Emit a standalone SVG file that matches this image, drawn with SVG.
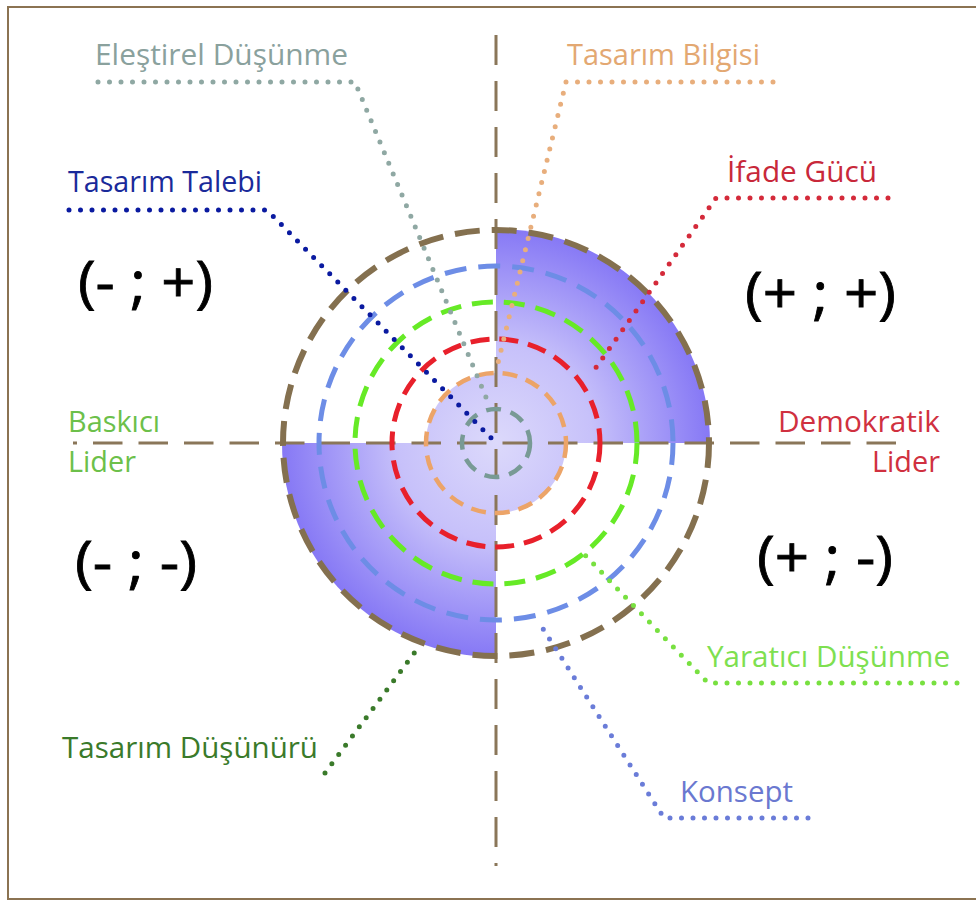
<svg xmlns="http://www.w3.org/2000/svg" width="976" height="902" viewBox="0 0 976 902">
<defs>
<radialGradient id="shade" gradientUnits="userSpaceOnUse" cx="496" cy="443" r="216">
<stop offset="0" stop-color="#dcd9fb"/>
<stop offset="0.45" stop-color="#c7c1fa"/>
<stop offset="1" stop-color="#8577f5"/>
</radialGradient>
<style>
.lbl{font-family:"Open Sans","Liberation Sans",sans-serif;font-size:29px}
.sign{font-family:"Open Sans","Liberation Sans",sans-serif;font-size:56px;fill:#000;stroke:#000;stroke-width:0.8}
.ring{fill:none}
.axis{fill:none;stroke:#8a7659;stroke-width:3}
.lead{fill:none;stroke-width:5;stroke-linecap:round;stroke-linejoin:round;stroke-dasharray:0 11.5}
</style>
</defs>
<rect x="0" y="0" width="976" height="902" fill="#ffffff"/>
<rect x="8" y="7" width="980" height="892" fill="none" stroke="#8b7352" stroke-width="2"/>

<g id="shading">
<path d="M496,443 L496,229 A214,214 0 0 1 710,443 Z" fill="url(#shade)"/>
<path d="M496,443 L282,443 A214,214 0 0 0 496,657 Z" fill="url(#shade)"/>
<circle cx="496" cy="443" r="70" fill="url(#shade)"/>
</g>

<g id="axes">
<line class="axis" x1="73" y1="443" x2="897" y2="443" stroke-dasharray="29.5 16" stroke-dashoffset="25.5"/>
<line class="axis" x1="496" y1="35" x2="496" y2="866" stroke-dasharray="30 16"/>
</g>

<g id="rings">
<circle id="ring-brown" class="ring" cx="496" cy="443" r="213" stroke="#84704f" stroke-width="6" stroke-dasharray="25 12"/>
<circle id="ring-blue" class="ring" cx="496" cy="443" r="177" stroke="#6d8de6" stroke-width="5" stroke-dasharray="22 12"/>
<circle id="ring-green" class="ring" cx="496" cy="443" r="141" stroke="#66ea26" stroke-width="5" stroke-dasharray="21 11"/>
<circle id="ring-red" class="ring" cx="496" cy="443" r="104" stroke="#e8202b" stroke-width="5" stroke-dasharray="19 10"/>
<circle id="ring-orange" class="ring" cx="496" cy="443" r="70" stroke="#eca468" stroke-width="4.5" stroke-dasharray="15 9"/>
<circle id="ring-gray" class="ring" cx="496" cy="443" r="34" stroke="#789a95" stroke-width="4.5" stroke-dasharray="15 10"/>
</g>

<g id="connectors">
<path class="lead" stroke="#8fa8a3" d="M98,82 L355,82 L488,402"/>
<path class="lead" stroke="#e8ae7c" d="M773,82 L566,82 L498,363"/>
<path class="lead" stroke="#d42a3a" d="M888,198 L716,198 L590,376"/>
<path class="lead" stroke="#0a1aa0" d="M69,210 L267,210 L496,443"/>
<path class="lead" stroke="#78e040" d="M957,683 L708,683 L583,553"/>
<path class="lead" stroke="#6a7cd8" d="M808,818 L664,818 L538,621"/>
<path class="lead" stroke="#3a7a2a" d="M325,773 L418,648"/>
</g>

<g id="label-elestirel"><text class="lbl" x="95" y="65" fill="#8aa19d" textLength="253" lengthAdjust="spacingAndGlyphs">Eleştirel Düşünme</text></g>
<g id="label-bilgisi"><text class="lbl" x="567" y="65" fill="#e3a872" textLength="193" lengthAdjust="spacingAndGlyphs">Tasarım Bilgisi</text></g>
<g id="label-ifade"><text class="lbl" x="727" y="182" fill="#c8283a" textLength="150" lengthAdjust="spacingAndGlyphs">İfade Gücü</text></g>
<g id="label-talebi"><text class="lbl" x="68" y="192" fill="#1a2a9a" textLength="194" lengthAdjust="spacingAndGlyphs">Tasarım Talebi</text></g>
<g id="label-baskici">
<text class="lbl" x="68" y="432" fill="#6cc04a" textLength="92" lengthAdjust="spacingAndGlyphs">Baskıcı</text>
<text class="lbl" x="68" y="472" fill="#6cc04a" textLength="68" lengthAdjust="spacingAndGlyphs">Lider</text>
</g>
<g id="label-demokratik">
<text class="lbl" x="778" y="432" fill="#d03040" textLength="162" lengthAdjust="spacingAndGlyphs">Demokratik</text>
<text class="lbl" x="872" y="472" fill="#d03040" textLength="68" lengthAdjust="spacingAndGlyphs">Lider</text>
</g>
<g id="label-yaratici"><text class="lbl" x="707" y="667" fill="#7ee050" textLength="243" lengthAdjust="spacingAndGlyphs">Yaratıcı Düşünme</text></g>
<g id="label-konsept"><text class="lbl" x="680" y="802" fill="#6a78d0" textLength="113" lengthAdjust="spacingAndGlyphs">Konsept</text></g>
<g id="label-dusunuru"><text class="lbl" x="62" y="758" fill="#3a7a2a" textLength="256" lengthAdjust="spacingAndGlyphs">Tasarım Düşünürü</text></g>

<g id="sign-tl"><text class="sign" x="78" y="302" textLength="135" lengthAdjust="spacingAndGlyphs">(- ; +)</text></g>
<g id="sign-tr"><text class="sign" x="745" y="313" textLength="151" lengthAdjust="spacingAndGlyphs">(+ ; +)</text></g>
<g id="sign-bl"><text class="sign" x="75" y="582" textLength="122" lengthAdjust="spacingAndGlyphs">(- ; -)</text></g>
<g id="sign-br"><text class="sign" x="757" y="577" textLength="136" lengthAdjust="spacingAndGlyphs">(+ ; -)</text></g>
</svg>
